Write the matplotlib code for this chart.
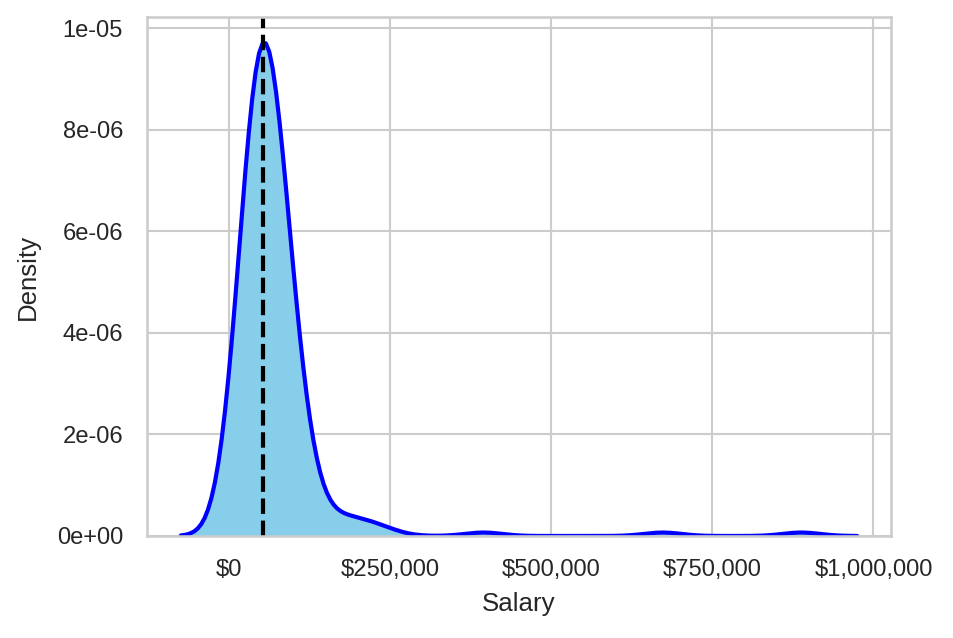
import numpy as np
import matplotlib
matplotlib.use('Agg')
import matplotlib.pyplot as plt
import seaborn as sns
from matplotlib.ticker import FuncFormatter

# salary levels (USD) and how many people sit at each level
salary_levels = [12500, 22500, 32500, 42500, 52500, 62500, 72500, 82500,
                 92500, 102500, 112500, 122500, 132500]
salary_counts = [7, 13, 21, 29, 34, 23, 21, 16, 12, 8, 5, 2, 1]
# the smaller group of higher salaries and the few outliers
high_salaries = [150000, 165000, 175000, 185000, 195000, 210000, 225000, 245000]
outlier_salaries = [395000, 673000, 888000]

x_ticks = [0, 250000, 500000, 750000, 1000000]
y_ticks = [0, 2e-6, 4e-6, 6e-6, 8e-6, 1e-5]


def build_salaries():
    base = np.repeat(salary_levels, salary_counts)
    return np.concatenate([base, high_salaries, outlier_salaries]).astype(float)


def main():
    salaries = build_salaries()

    sns.set_theme(style='whitegrid')
    plt.rcParams['font.family'] = ['Liberation Sans', 'DejaVu Sans']

    fig, ax = plt.subplots(figsize=(953 / 150, 638 / 150), dpi=150)
    fig.subplots_adjust(left=0.1543, right=0.935, top=0.9734, bottom=0.1599)

    sns.kdeplot(salaries, ax=ax, fill=True, color='skyblue', alpha=1, linewidth=0)
    sns.kdeplot(salaries, ax=ax, color='blue', linewidth=2)
    ax.axvline(np.median(salaries), color='black', linestyle='--', linewidth=2)

    ax.set_xticks(x_ticks)
    ax.set_yticks(y_ticks)
    ax.xaxis.set_major_formatter(FuncFormatter(lambda v, p: '${:,.0f}'.format(v)))
    ax.yaxis.set_major_formatter(FuncFormatter(lambda v, p: '{:.0e}'.format(v)))
    ax.tick_params(axis='x', labelsize=11.4, pad=5)
    ax.tick_params(axis='y', labelsize=11.4, pad=5.5)
    ax.set_ylim(0, 1.022e-5)

    ax.set_xlabel('Salary', fontsize=12.4, labelpad=5.5)
    ax.set_ylabel('Density', fontsize=12.4, labelpad=8)

    plt.savefig('out.png', dpi=150)


if __name__ == '__main__':
    main()
